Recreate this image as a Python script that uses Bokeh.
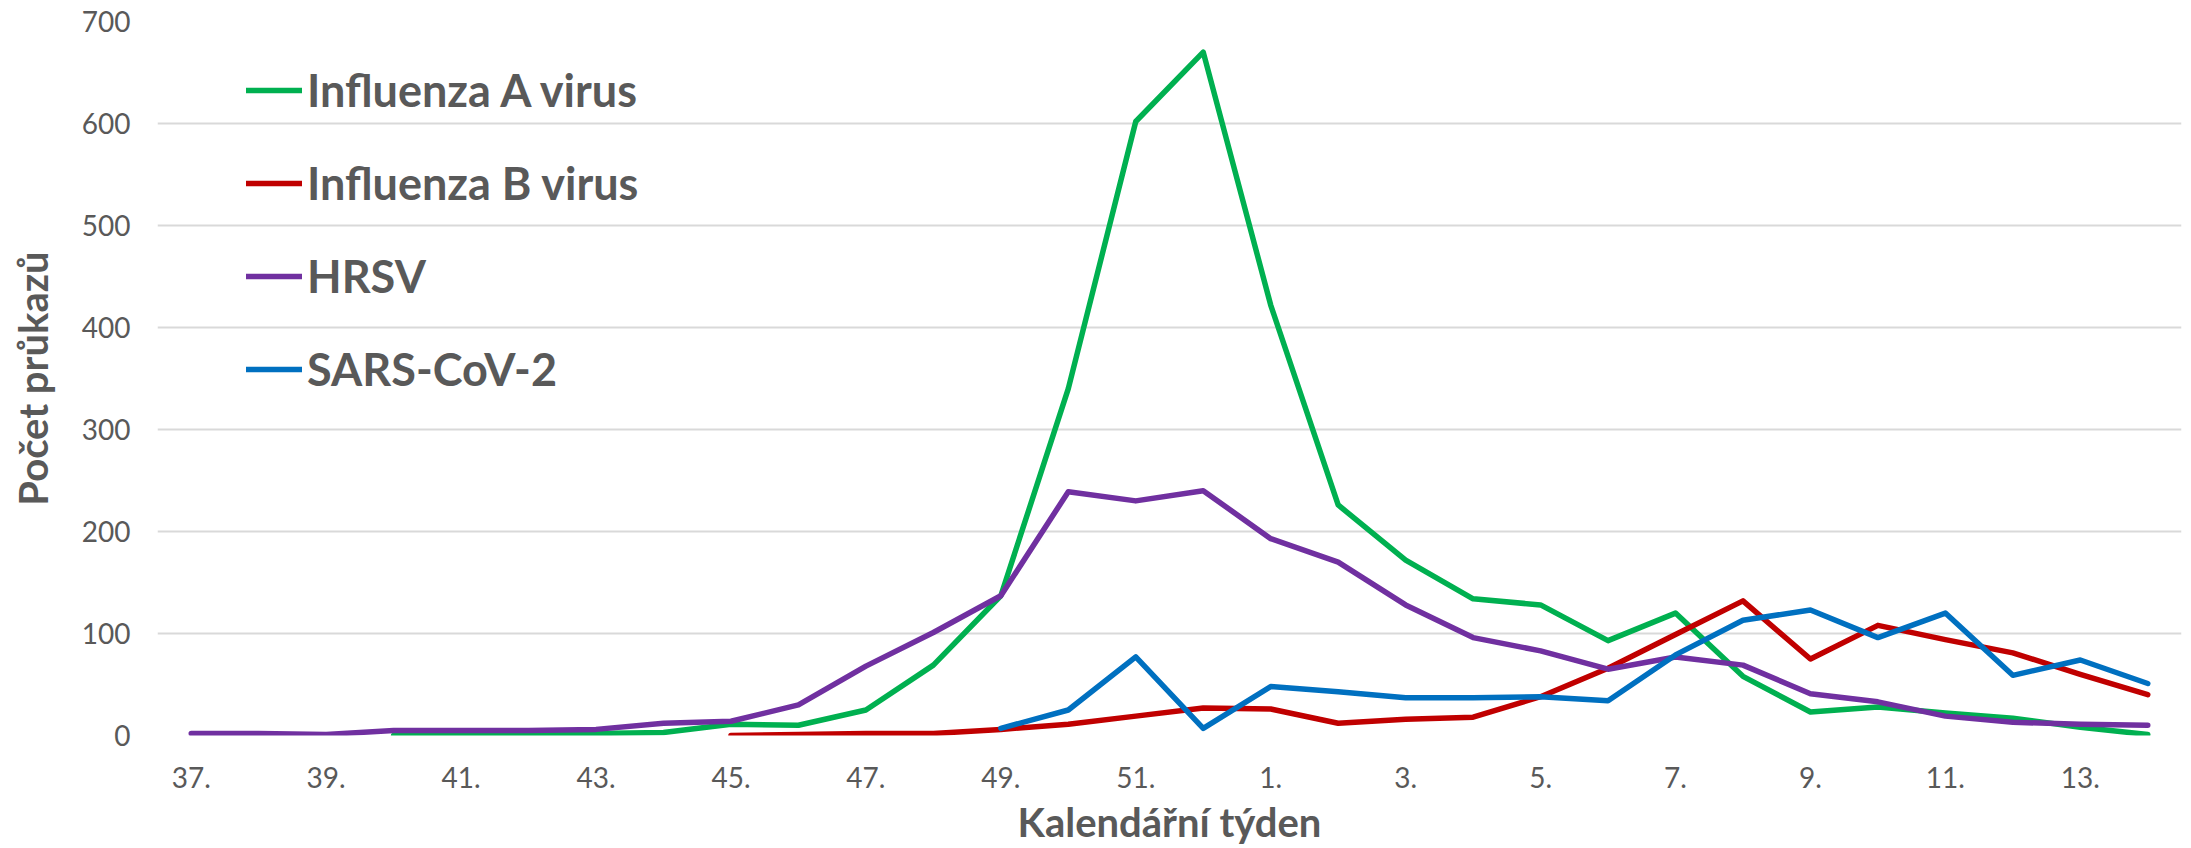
import numpy as np
from bokeh.plotting import figure
from bokeh.models import Legend, LegendItem, FixedTicker
from bokeh.embed import file_html
from bokeh.resources import INLINE

weeks = ["37.", "38.", "39.", "40.", "41.", "42.", "43.", "44.", "45.", "46.",
         "47.", "48.", "49.", "50.", "51.", "52.", "1.", "2.", "3.", "4.",
         "5.", "6.", "7.", "8.", "9.", "10.", "11.", "12.", "13.", "14."]

influenza_a = [None, None, None, 0, 1, 2, 2, 3, 11, 10, 25, 69, 137, 340, 602, 670,
               422, 226, 172, 134, 128, 93, 120, 58, 23, 28, 22, 17, 8, 1]
influenza_b = [None, None, None, None, None, None, None, None, 0, 1, 2, 2, 6, 11, 19, 27,
               26, 12, 16, 18, 38, 66, 99, 132, 75, 108, 94, 81, 60, 40]
hrsv = [2, 2, 1, 5, 5, 5, 6, 12, 14, 30, 68, 101, 137, 239, 230, 240,
        193, 170, 128, 96, 83, 65, 77, 69, 41, 33, 19, 13, 11, 10]
sars_cov_2 = [None, None, None, None, None, None, None, None, None, None, None, None, 7, 25, 77, 7,
              48, 43, 37, 37, 38, 34, 79, 113, 123, 96, 120, 59, 74, 51]

series_names = ["Influenza A virus", "Influenza B virus", "HRSV", "SARS-CoV-2"]
series_colors = ["#00B050", "#C00000", "#7030A0", "#0070C0"]
series_values = [influenza_a, influenza_b, hrsv, sars_cov_2]

y_ticks = [0, 100, 200, 300, 400, 500, 600, 700]

TEXT = "#595959"
FONT = "Lato"

x = np.arange(len(weeks))

p = figure(width=2191, height=848, output_backend="svg", toolbar_location=None,
           x_range=(-0.5, len(weeks) - 0.5), y_range=(0, 700),
           min_border_left=157, min_border_right=10, min_border_top=21, min_border_bottom=112)
p.outline_line_color = None
p.background_fill_color = "white"

items = []
for name, color, vals in zip(series_names, series_colors, series_values):
    y = np.array(vals, dtype=float)
    r = p.line(x, y, line_color=color, line_width=5.5, line_cap="round", line_join="round")
    items.append(LegendItem(label=name, renderers=[r]))

# axes
p.xgrid.grid_line_color = None
p.ygrid.grid_line_color = "#d9d9d9"
p.ygrid.grid_line_width = 2
p.yaxis.ticker = FixedTicker(ticks=y_ticks)
tick_pos = list(range(0, len(weeks), 2))
p.xaxis.ticker = FixedTicker(ticks=tick_pos)
p.xaxis.major_label_overrides = {i: weeks[i] for i in tick_pos}

for ax in (p.xaxis[0], p.yaxis[0]):
    ax.axis_line_color = None
    ax.major_tick_line_color = None
    ax.minor_tick_line_color = None
    ax.major_tick_in = 0
    ax.major_tick_out = 0
    ax.major_label_text_font = FONT
    ax.major_label_text_font_size = "28px"
    ax.major_label_text_color = TEXT
    ax.axis_label_text_font = FONT
    ax.axis_label_text_font_style = "bold"
    ax.axis_label_text_font_size = "40px"
    ax.axis_label_text_color = TEXT

p.xaxis.axis_label = "Kalendářní týden"
p.yaxis.axis_label = "Počet průkazů"
p.xaxis.major_label_standoff = 31
p.yaxis.major_label_standoff = 27
p.xaxis.axis_label_standoff = 7
p.yaxis.axis_label_standoff = 22

legend = Legend(items=items, location=(89, 338), orientation="vertical",
                glyph_width=56, glyph_height=56, label_height=56, spacing=37,
                label_standoff=5, padding=0, margin=0,
                label_text_font=FONT, label_text_font_style="bold",
                label_text_font_size="45px", label_text_color=TEXT,
                border_line_color=None, background_fill_alpha=0)
p.add_layout(legend)

open("out.html", "w").write(file_html(p, INLINE))
